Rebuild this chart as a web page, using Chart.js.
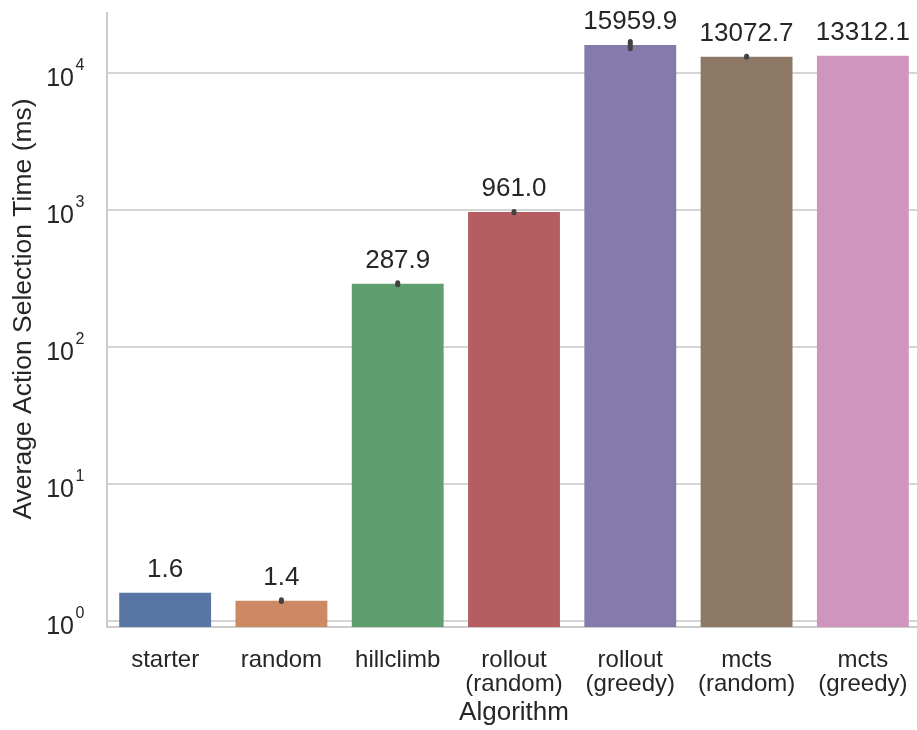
<!DOCTYPE html>
<html>
<head>
<meta charset="utf-8">
<script src="https://cdn.jsdelivr.net/npm/chart.js@4.4.1/dist/chart.umd.min.js"></script>
<style>
  html, body { margin: 0; padding: 0; background: #ffffff; overflow: hidden; }
  #wrap { width: 917px; height: 730px; overflow: hidden; }
</style>
</head>
<body>
<div id="wrap"><canvas id="c" width="922" height="730"></canvas></div>
<script>
// Mean action-selection time per algorithm (ms), with confidence interval bounds
const algorithms = ['starter', 'random', 'hillclimb', 'rollout\n(random)', 'rollout\n(greedy)', 'mcts\n(random)', 'mcts\n(greedy)'];
const meanTimes = [1.6, 1.4, 287.9, 961.0, 15959.9, 13072.7, 13312.1];
const ciLow  = [null, 1.38, 283, 952, 15000, 12950, null];
const ciHigh = [null, 1.42, 293, 970, 16900, 13200, null];
const barColors = ['#5975a4', '#cc8963', '#5f9e6e', '#b55d60', '#857aab', '#8d7866', '#d095bf'];
const yTickPowers = [0, 1, 2, 3, 4];
const yTitle = 'Average Action Selection Time (ms)';

const FONT = '"Liberation Sans", Arial, Helvetica, sans-serif';
const TEXT = '#262626';

// Error bars, value annotations, 10^n tick labels and the y-axis title
const overlay = {
  id: 'overlay',
  afterDatasetsDraw(chart) {
    const ctx = chart.ctx;
    const x = chart.scales.x, y = chart.scales.y;
    ctx.save();
    // confidence interval lines
    ctx.strokeStyle = '#424242';
    ctx.lineWidth = 5;
    ctx.lineCap = 'round';
    meanTimes.forEach((v, i) => {
      if (ciLow[i] == null) return;
      const cx = x.getPixelForValue(i);
      ctx.beginPath();
      ctx.moveTo(cx, y.getPixelForValue(ciLow[i]));
      ctx.lineTo(cx, y.getPixelForValue(ciHigh[i]));
      ctx.stroke();
    });
    // value labels above bars
    ctx.fillStyle = TEXT;
    ctx.font = '26px ' + FONT;
    ctx.textAlign = 'center';
    ctx.textBaseline = 'middle';
    meanTimes.forEach((v, i) => {
      ctx.fillText(v.toFixed(1), x.getPixelForValue(i), y.getPixelForValue(v) - 23);
    });
    // y tick labels as powers of ten
    yTickPowers.forEach(p => {
      const ty = y.getPixelForValue(Math.pow(10, p));
      ctx.font = '25px ' + FONT;
      ctx.textAlign = 'right';
      ctx.fillText('10', 74, ty + 6);
      ctx.font = '16px ' + FONT;
      ctx.textAlign = 'left';
      ctx.fillText(String(p), 75.5, ty - 7);
    });
    // y-axis title
    ctx.translate(24, 309);
    ctx.rotate(-Math.PI / 2);
    ctx.font = '26.5px ' + FONT;
    ctx.textAlign = 'center';
    ctx.fillText(yTitle, 0, 0);
    ctx.restore();
  }
};

new Chart(document.getElementById('c'), {
  type: 'bar',
  data: {
    labels: algorithms.map(a => a.split('\n')),
    datasets: [{
      data: meanTimes,
      backgroundColor: barColors,
      borderWidth: 0,
      barPercentage: 0.79,
      categoryPercentage: 1.0
    }]
  },
  options: {
    responsive: false,
    devicePixelRatio: 1,
    animation: false,
    layout: { padding: { top: 13, right: 1, left: 0, bottom: 0 } },
    plugins: { legend: { display: false }, tooltip: { enabled: false } },
    scales: {
      x: {
        grid: { display: false },
        border: { display: true, color: '#cccccc', width: 2 },
        ticks: {
          color: TEXT,
          font: { family: FONT, size: 24, lineHeight: 1.0 },
          padding: 13,
          maxRotation: 0,
          autoSkip: false
        },
        title: {
          display: true,
          text: 'Algorithm',
          color: TEXT,
          font: { family: FONT, size: 26 },
          padding: { top: 0, bottom: 1.4 }
        },
        afterFit(scale) { scale.height = 103; }
      },
      y: {
        type: 'logarithmic',
        min: 0.9,
        max: 27300,
        afterBuildTicks(scale) {
          scale.ticks = yTickPowers.map(p => ({ value: Math.pow(10, p) }));
        },
        grid: { color: '#d5d5d5', lineWidth: 2, drawTicks: false },
        border: { display: true, color: '#cccccc', width: 2 },
        ticks: { display: false },
        title: { display: false },
        afterFit(scale) { scale.width = 107; }
      }
    }
  },
  plugins: [overlay]
});
</script>
</body>
</html>
